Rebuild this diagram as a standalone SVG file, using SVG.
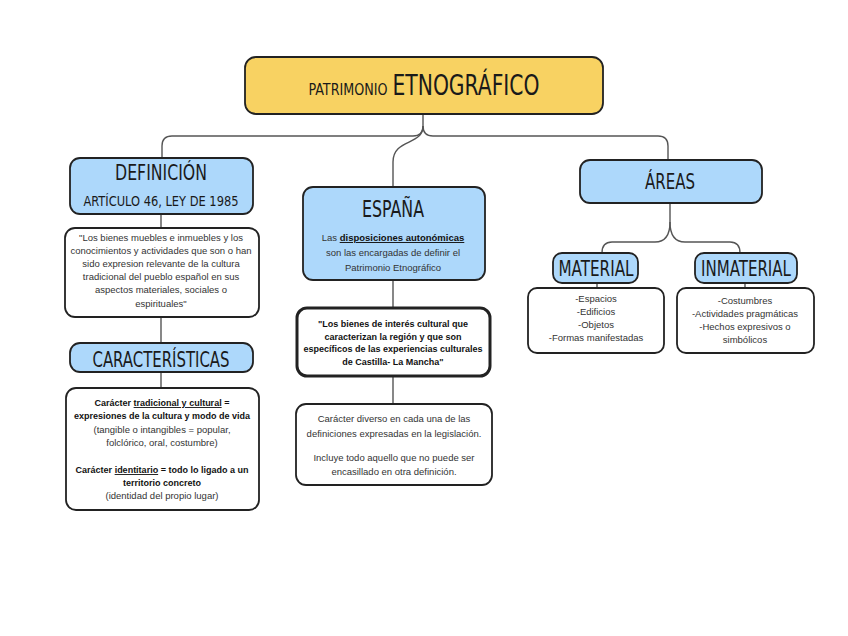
<svg xmlns="http://www.w3.org/2000/svg" width="848" height="636" viewBox="0 0 848 636">
<style>
.bg{fill:#ffffff}
.box{stroke:#222;stroke-width:1.8}
.blue{fill:#ADD8FB}
.yellow{fill:#F8D262}
.white{fill:#ffffff}
.thick{stroke-width:3}
.conn{fill:none;stroke:#555;stroke-width:1.4}
.h{font-family:"Liberation Sans Narrow","DejaVu Sans Condensed","Liberation Sans",sans-serif;fill:#1a1a1a;text-anchor:middle}
.t{font-family:"Liberation Sans","DejaVu Sans",sans-serif;font-size:9.5px;fill:#333;text-anchor:middle}
.b{font-family:"Liberation Sans","DejaVu Sans",sans-serif;font-size:9px;font-weight:bold;fill:#111;text-anchor:middle}
.u{text-decoration:underline}
</style>
<rect class="bg" x="0" y="0" width="848" height="636"/>
<g id="connectors">
<path class="conn" d="M423,114 V126 Q423,136 413,136 H172 Q162,136 162,146 V158"/>
<path class="conn" d="M423,126 Q423,136 433,136 H658 Q668,136 668,146 V160"/>
<path class="conn" d="M423,126 C423,146 393,138 393,162 V187"/>
<path class="conn" d="M161,214 V228"/>
<path class="conn" d="M161,317 V343"/>
<path class="conn" d="M161,372 V388"/>
<path class="conn" d="M393,280 V308"/>
<path class="conn" d="M393,376 V404"/>
<path class="conn" d="M670,203 V222 Q670,242 655,242 H612 Q602,242 602,253"/>
<path class="conn" d="M670,222 Q670,242 685,242 H730 Q740,242 740,253"/>
<path class="conn" d="M597,283 V288"/>
<path class="conn" d="M745,283 V288"/>
</g>
<g id="titulo">
<rect class="box yellow" x="245" y="57" width="358" height="57" rx="11"/>
<text class="h" x="348" y="95" font-size="16" textLength="79" lengthAdjust="spacingAndGlyphs">PATRIMONIO</text>
<text class="h" x="466" y="95" font-size="28" textLength="147" lengthAdjust="spacingAndGlyphs">ETNOGRÁFICO</text>
</g>
<g id="definicion">
<rect class="box blue" x="70" y="158" width="183" height="56" rx="10"/>
<text class="h" x="161" y="180" font-size="21" textLength="92" lengthAdjust="spacingAndGlyphs">DEFINICIÓN</text>
<text class="h" x="161" y="206" font-size="13.5" textLength="155" lengthAdjust="spacingAndGlyphs">ARTÍCULO 46, LEY DE 1985</text>
</g>
<g id="definicion-texto">
<rect class="box white" x="65" y="228" width="194" height="89" rx="10"/>
<text class="t" x="161" y="241">"Los bienes muebles e inmuebles y los</text>
<text class="t" x="161" y="254">conocimientos y actividades que son o han</text>
<text class="t" x="161" y="267">sido expresion relevante de la cultura</text>
<text class="t" x="161" y="280">tradicional del pueblo español en sus</text>
<text class="t" x="161" y="293">aspectos materiales, sociales o</text>
<text class="t" x="161" y="307">espirituales"</text>
</g>
<g id="caracteristicas">
<rect class="box blue" x="70" y="343" width="183" height="29" rx="10"/>
<text class="h" x="161" y="367" font-size="22" textLength="137" lengthAdjust="spacingAndGlyphs">CARACTERÍSTICAS</text>
</g>
<g id="caracteristicas-texto">
<rect class="box white" x="66" y="388" width="193" height="122" rx="10"/>
<text class="b" x="162" y="406">Carácter <tspan class="u">tradicional y cultural</tspan> =</text>
<text class="b" x="162" y="419">expresiones de la cultura y modo de vida</text>
<text class="t" x="162" y="433">(tangible o intangibles = popular,</text>
<text class="t" x="162" y="446">folclórico, oral, costumbre)</text>
<text class="b" x="162" y="473">Carácter <tspan class="u">identitario</tspan> = todo lo ligado a un</text>
<text class="b" x="162" y="486">territorio concreto</text>
<text class="t" x="162" y="499">(identidad del propio lugar)</text>
</g>
<g id="espana">
<rect class="box blue" x="303" y="187" width="182" height="93" rx="10"/>
<text class="h" x="393" y="217" font-size="23" textLength="62" lengthAdjust="spacingAndGlyphs">ESPAÑA</text>
<text class="t" x="393" y="241">Las <tspan font-weight="bold" fill="#111" class="u">disposiciones autonómicas</tspan></text>
<text class="t" x="393" y="256">son las encargadas de definir el</text>
<text class="t" x="393" y="271">Patrimonio Etnográfico</text>
</g>
<g id="castilla">
<rect class="box white thick" x="297" y="308" width="193" height="68" rx="10"/>
<text class="b" x="393" y="327">"Los bienes de interés cultural que</text>
<text class="b" x="393" y="340">caracterizan la región y que son</text>
<text class="b" x="393" y="352">específicos de las experiencias culturales</text>
<text class="b" x="393" y="365">de Castilla- La Mancha"</text>
</g>
<g id="diverso">
<rect class="box white" x="296" y="404" width="196" height="81" rx="10"/>
<text class="t" x="394" y="422">Carácter diverso en cada una de las</text>
<text class="t" x="394" y="437">definiciones expresadas en la legislación.</text>
<text class="t" x="394" y="461">Incluye todo aquello que no puede ser</text>
<text class="t" x="394" y="475">encasillado en otra definición.</text>
</g>
<g id="areas">
<rect class="box blue" x="580" y="160" width="182" height="43" rx="10"/>
<text class="h" x="670" y="189" font-size="21" textLength="50" lengthAdjust="spacingAndGlyphs">ÁREAS</text>
</g>
<g id="material">
<rect class="box blue" x="553" y="253" width="85" height="30" rx="9"/>
<text class="h" x="596" y="276" font-size="22" textLength="75" lengthAdjust="spacingAndGlyphs">MATERIAL</text>
</g>
<g id="inmaterial">
<rect class="box blue" x="695" y="253" width="102" height="30" rx="9"/>
<text class="h" x="746" y="276" font-size="22" textLength="90" lengthAdjust="spacingAndGlyphs">INMATERIAL</text>
</g>
<g id="material-lista">
<rect class="box white" x="528" y="288" width="136" height="65" rx="9"/>
<text class="t" x="596" y="302">-Espacios</text>
<text class="t" x="596" y="315">-Edificios</text>
<text class="t" x="596" y="328">-Objetos</text>
<text class="t" x="596" y="341">-Formas manifestadas</text>
</g>
<g id="inmaterial-lista">
<rect class="box white" x="677" y="288" width="137" height="65" rx="9"/>
<text class="t" x="745" y="304">-Costumbres</text>
<text class="t" x="745" y="317">-Actividades pragmáticas</text>
<text class="t" x="745" y="330">-Hechos expresivos o</text>
<text class="t" x="745" y="343">simbólicos</text>
</g>
</svg>
